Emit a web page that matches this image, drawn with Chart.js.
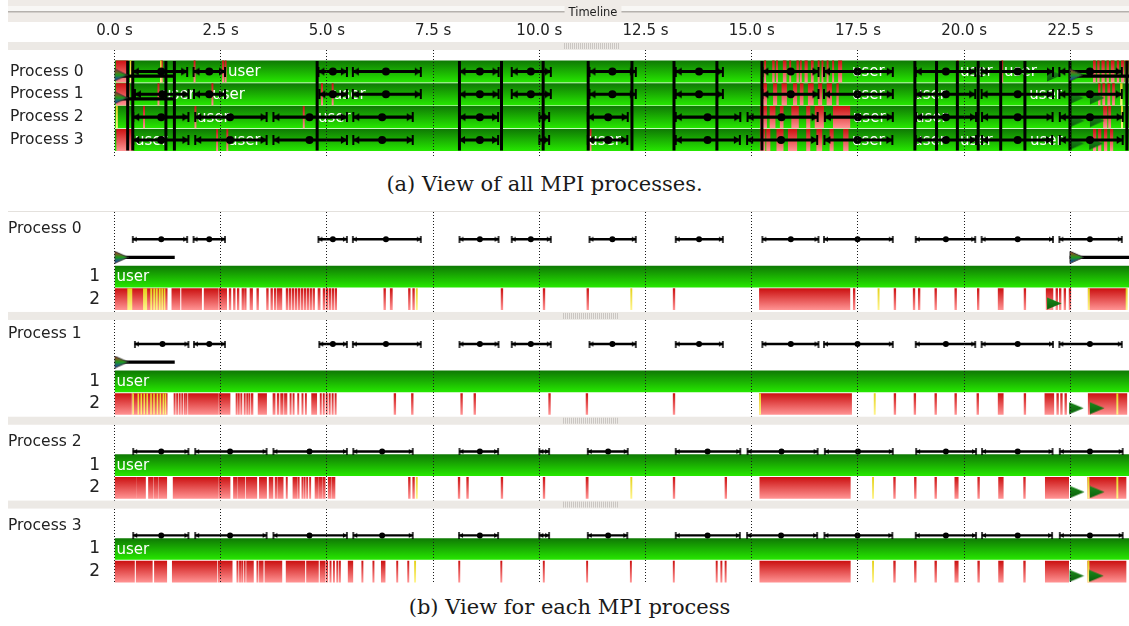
<!DOCTYPE html>
<html>
<head>
<meta charset="utf-8">
<title>Timeline</title>
<script src="https://cdn.jsdelivr.net/npm/chart.js@4.4.1/dist/chart.umd.min.js"></script>
<style>
  html, body { margin: 0; padding: 0; background: #ffffff; }
  #page { position: relative; width: 1129px; height: 626px; overflow: hidden; background: #ffffff; }
  canvas { position: absolute; left: 0; }
  #overview { top: 0; }
  #perProcess { top: 205px; }
  .caption { position: absolute; width: 1129px; text-align: center; font-family: "DejaVu Serif", "Liberation Serif", serif;
             font-size: 21px; line-height: 24px; color: #1a1a1a; white-space: nowrap; }
</style>
</head>
<body>
<div id="page">
  <canvas id="overview" width="1129" height="160"></canvas>
  <canvas id="perProcess" width="1129" height="385"></canvas>
  <div class="caption" style="left:-20px; top:172px;">(a) View of all MPI processes.</div>
  <div class="caption" style="left:5px; top:595px;">(b) View for each MPI process</div>
</div>
<script>
const UI_FONT = '"DejaVu Sans", "Noto Sans", sans-serif';
Chart.defaults.font.family = UI_FONT;

// ---------- trace data (times in seconds) ----------
const processNames = ['Process 0', 'Process 1', 'Process 2', 'Process 3'];
const tickTimes = [0, 2.5, 5, 7.5, 10, 12.5, 15, 17.5, 20, 22.5];
const traceEnd = 23.88;
const functionName = 'user';

// MPI calls on call-stack level 2 (red)
const mpiP0 = [[0,1.24],[1.35,1.54],[1.58,2.05],[2.11,2.44],[2.46,2.64],
  [2.70,2.74],[2.80,2.84],[2.89,2.93],[3.00,3.04],[3.06,3.10],[3.19,3.25],[3.35,3.39],[3.58,3.62],[3.68,3.72],[3.76,3.80],[3.83,3.94],
  [4.04,4.08],[4.11,4.15],[4.18,4.22],[4.25,4.29],[4.32,4.36],[4.39,4.43],[4.46,4.50],[4.53,4.57],[4.60,4.64],[4.67,4.71],[4.79,4.84],
  [4.91,4.95],[4.98,5.02],[5.05,5.09],[5.12,5.16],[5.19,5.23],
  [6.34,6.38],[6.49,6.54],[6.92,6.96],[7.02,7.06],[9.10,9.14],[10.09,10.13],[11.12,11.16],[13.15,13.19],
  [15.18,17.31],[17.39,17.43],[18.35,18.39],[18.80,18.84],[18.92,18.96],[19.31,19.35],[19.78,19.82],[20.31,20.35],[20.80,20.92],
  [21.41,21.45],[21.93,22.09],[22.16,22.20],[22.24,22.28],[22.35,22.39],[22.47,22.51],[22.92,23.81]];
const mpiP1 = [[0,0.40],[0.43,1.24],[1.40,1.43],[1.46,1.49],[1.52,1.55],[1.58,1.61],[1.64,1.67],[1.68,1.71],[1.74,2.43],[2.45,2.72],
  [2.86,2.89],[2.91,2.94],[2.97,3.00],[3.05,3.08],[3.11,3.14],[3.16,3.19],[3.22,3.26],[3.38,3.58],[3.73,3.78],[3.83,3.87],[3.91,3.97],
  [4.00,4.06],[4.13,4.16],[4.20,4.23],[4.31,4.34],[4.41,4.44],[4.49,4.52],[4.64,4.76],[4.84,4.87],[4.91,4.94],[4.98,5.01],[5.05,5.08],
  [5.12,5.15],[5.19,5.22],
  [6.58,6.62],[6.99,7.03],[8.15,8.19],[8.46,8.50],[10.22,10.26],[11.10,11.14],[13.15,13.19],
  [15.18,17.35],[18.35,18.39],[18.82,18.86],[19.31,19.35],[19.78,19.82],[20.30,20.34],[20.80,20.92],[21.41,21.45],[21.90,22.11],
  [22.18,22.22],[22.27,22.31],[22.37,22.41],[22.92,23.83]];
const mpiP2 = [[0,0.51],[0.52,0.73],[0.80,0.91],[0.93,1.03],[1.05,1.23],[1.38,2.43],[2.45,2.72],
  [2.80,2.89],[2.91,3.07],[3.10,3.35],[3.41,3.58],[3.64,3.73],[3.78,3.83],[3.85,3.97],[4.04,4.07],[4.20,4.30],[4.32,4.35],[4.41,4.44],
  [4.46,4.49],[4.52,4.55],[4.59,4.62],[4.72,4.80],[4.82,4.88],[4.90,4.96],[5.03,5.10],[5.12,5.19],
  [6.92,6.96],[7.02,7.06],[8.09,8.13],[8.29,8.33],[9.10,9.14],[10.09,10.13],[11.10,11.15],[13.15,13.19],[14.37,14.41],
  [15.19,17.32],[18.34,18.38],[18.83,18.87],[19.31,19.35],[19.78,19.86],[20.32,20.36],[20.81,20.92],[21.40,21.44],[21.91,22.46],[22.91,23.81]];
const mpiP3 = [[0,0.47],[0.51,0.89],[0.94,1.23],[1.36,2.41],[2.44,2.77],[2.88,2.91],[2.94,2.97],[2.99,3.02],[3.05,3.08],[3.11,3.27],
  [3.35,3.38],[3.41,3.50],[3.54,3.94],[4.04,4.48],[4.52,4.80],[4.84,4.96],[4.99,5.02],[5.07,5.10],[5.15,5.18],[5.23,5.26],[5.29,5.32],
  [5.50,5.61],[5.82,5.85],[6.08,6.11],[6.28,6.37],[6.64,6.67],[6.90,6.93],[8.10,8.13],[9.09,9.12],[10.09,10.12],[11.11,11.14],
  [12.14,12.17],[13.15,13.18],[14.16,14.19],[14.27,14.30],[14.37,14.40],
  [15.19,17.32],[18.34,18.38],[18.83,18.87],[19.31,19.35],[19.78,19.86],[20.32,20.36],[20.81,20.92],[21.40,21.44],[21.91,22.46],[22.91,23.81]];

// other MPI functions on level 2 (yellow)
const otherP0 = [[0.31,0.41],[0.68,0.76],[0.85,0.88],[0.92,0.95],[0.98,1.01],[1.05,1.08],[1.11,1.14],[1.17,1.19],
  [7.10,7.13],[12.15,12.18],[17.97,18.00],[22.92,22.95],[23.81,23.84]];
const otherP1 = [[0.43,0.45],[0.55,0.57],[0.62,0.64],[0.69,0.71],[0.76,0.78],[0.85,0.87],[0.92,0.94],[1.00,1.02],[1.07,1.09],
  [1.14,1.16],[1.19,1.21],[15.18,15.21],[17.88,17.91],[23.59,23.62]];
const otherP2 = [[7.10,7.13],[12.15,12.18],[17.84,17.87],[22.91,22.94],[23.59,23.62]];
const otherP3 = [[7.06,7.09],[17.84,17.87],[22.91,22.94]];

// summarised MPI share in the overview rows
const topMpiP0 = [[0.04,0.32],[1.10,1.13],[1.87,1.90],[2.54,2.57],[2.60,2.63],[15.30,15.33],[15.49,15.53],[15.58,15.61],[15.74,15.81],
  [15.89,15.92],[16.06,16.10],[16.14,16.17],[16.25,16.31],[16.40,16.45],[16.56,16.59],[16.65,16.68],[16.77,16.80],[16.90,16.93],
  [17.04,17.12],[19.83,19.86],[20.88,20.91],[23.04,23.09],[23.14,23.18],[23.24,23.30],[23.36,23.40],[23.46,23.53],[23.60,23.64],
  [23.70,23.76],[23.80,23.86]];
const topMpiP1 = [[0.04,0.35],[1.02,1.05],[1.39,1.42],[2.29,2.32],[4.87,4.90],[5.12,5.15],[15.27,15.35],[15.51,15.59],[15.71,15.82],
  [15.98,16.06],[16.14,16.21],[16.33,16.45],[16.57,16.65],[16.77,16.88],[17.00,17.04],[23.16,23.20],[23.26,23.31],[23.38,23.43],[23.49,23.54]];
const topMpiP2 = [[0.68,0.71],[1.89,1.92],[4.44,4.47],[15.20,15.35],[15.43,15.55],[15.67,15.74],[15.94,16.10],[16.29,16.37],
  [16.49,16.69],[16.92,17.31],[23.28,23.36],[23.40,23.45]];
const topMpiP3 = [[0.05,0.44],[2.40,2.43],[2.64,2.67],[11.19,11.22],[15.20,15.31],[15.35,15.43],[15.59,15.74],[15.86,16.06],
  [16.29,16.37],[16.53,16.65],[16.84,16.92],[17.16,17.27],[23.04,23.10],[23.16,23.22],[23.30,23.36],[23.44,23.50]];
const topOtherP0 = [[0.37,0.40],[1.08,1.10]];
const topOtherP1 = [[23.68,23.72]];
const topOtherP2 = [[0.04,0.07],[23.70,23.73]];
const topOtherP3 = [];

// message phases: [send start, transfer mark, receive end]
const msgP0 = [[0.43,1.10,1.71],[1.86,2.23,2.60],[4.80,5.14,5.47],[5.61,6.39,7.21],[8.12,8.60,9.04],[9.35,9.80,10.27],[11.18,11.72,12.27],
  [13.21,13.76,14.32],[15.25,15.92,16.57],[16.70,17.49,18.32],[18.86,19.57,20.26],[20.41,21.26,22.09],[22.24,22.96,23.71]];
const msgP1 = [[0.48,1.13,1.74],[1.87,2.23,2.60],[4.82,5.14,5.47],[5.61,6.39,7.21],[8.12,8.60,9.04],[9.35,9.80,10.27],[11.18,11.72,12.27],
  [13.21,13.76,14.32],[15.25,15.92,16.57],[16.70,17.49,18.32],[18.86,19.57,20.26],[20.41,21.26,22.09],[22.24,22.96,23.71]];
const msgP2 = [[0.44,1.10,1.74],[1.90,2.72,3.58],[3.74,4.59,5.47],[5.62,6.30,7.02],[8.12,8.60,9.03],[10.00,null,10.23],[11.14,11.62,12.08],
  [13.21,13.96,14.73],[14.90,15.70,16.55],[16.72,17.50,18.32],[18.87,19.57,20.28],[20.42,21.26,22.08],[22.25,22.96,23.73]];
const msgP3 = [[0.44,1.10,1.74],[1.90,2.72,3.58],[3.74,4.59,5.47],[5.62,6.30,7.02],[8.11,8.60,9.03],[10.00,null,10.23],[11.14,11.62,12.07],
  [13.21,13.96,14.72],[14.89,15.69,16.54],[16.71,17.49,18.31],[18.86,19.57,20.28],[20.42,21.26,22.07],[22.25,22.96,23.73]];

// collective operations spanning all processes
const collectiveTimes = [0.31,0.43,1.21,1.41,4.77,8.12,9.11,10.09,11.15,12.18,13.17,14.18,15.24,18.84,19.35,19.84,20.33,20.86,21.43,22.49,23.83];

// I/O bursts [start, end] and resumed-task flags
const burstP0 = [[0,1.41],[22.49,23.88]];
const burstP1 = [[0,1.41]];
const burstP2 = [];
const burstP3 = [];
const flagP0 = [21.95];
const flagP1 = [22.47,22.96];
const flagP2 = [22.49,22.96];
const flagP3 = [22.48,22.94];

// where the overview has room for the function name
const userTopP0 = [2.67,17.36,19.90,20.94];
const userTopP1 = [1.12,2.30,5.14,17.36,18.80,21.53];
const userTopP2 = [1.94,4.79,17.38,18.84];
const userTopP3 = [0.48,2.67,11.15,17.36,18.80,19.90,21.55];

const mpiRows = [mpiP0, mpiP1, mpiP2, mpiP3];
const otherRows = [otherP0, otherP1, otherP2, otherP3];
const topMpiRows = [topMpiP0, topMpiP1, topMpiP2, topMpiP3];
const topOtherRows = [topOtherP0, topOtherP1, topOtherP2, topOtherP3];
const msgRows = [msgP0, msgP1, msgP2, msgP3];
const burstRows = [burstP0, burstP1, burstP2, burstP3];
const flagRows = [flagP0, flagP1, flagP2, flagP3];
const userTopRows = [userTopP0, userTopP1, userTopP2, userTopP3];

// ---------- styling ----------
const GREEN = ['#0f7a04', '#26e600'];
const RED = ['#cc1212', '#ff9292'];
const YELLOW = ['#e4d21a', '#fff48c'];

function glyph(w, h, paint) {
  const cv = document.createElement('canvas');
  cv.width = w; cv.height = h;
  paint(cv.getContext('2d'), w, h);
  return cv;
}
// "|<" : bar on the anchor, triangle to its right
function startGlyph(barH, triW, triH, lw) {
  return glyph((triW + 2) * 2, barH, (c, w, h) => {
    const cx = w / 2;
    c.fillStyle = '#000';
    c.fillRect(cx - lw / 2, 0, lw, h);
    c.beginPath(); c.moveTo(cx, h / 2); c.lineTo(cx + triW, h / 2 - triH / 2); c.lineTo(cx + triW, h / 2 + triH / 2); c.closePath(); c.fill();
  });
}
// ">|" : triangle to the left of the bar
function endGlyph(barH, triW, triH, lw) {
  return glyph((triW + 2) * 2, barH, (c, w, h) => {
    const cx = w / 2;
    c.fillStyle = '#000';
    c.fillRect(cx - lw / 2, 0, lw, h);
    c.beginPath(); c.moveTo(cx, h / 2); c.lineTo(cx - triW, h / 2 - triH / 2); c.lineTo(cx - triW, h / 2 + triH / 2); c.closePath(); c.fill();
  });
}
// right-pointing flag whose left edge sits on the anchor
function flagGlyph(tw, th, stops, outline) {
  return glyph(tw * 2, th, (c, w, h) => {
    const g = c.createLinearGradient(0, 0, 0, h);
    stops.forEach((s, i) => g.addColorStop(i / (stops.length - 1), s));
    c.beginPath(); c.moveTo(tw, 0.5); c.lineTo(w - 0.5, h / 2); c.lineTo(tw, h - 0.5); c.closePath();
    c.fillStyle = g; c.fill();
    if (outline) { c.strokeStyle = outline; c.lineWidth = 1; c.stroke(); }
  });
}

function gradientFill(colors, thickness) {
  return (ctx) => {
    const chart = ctx.chart;
    if (!chart.chartArea || !ctx.raw || ctx.raw.y == null) return colors[1];
    const yc = chart.scales.y.getPixelForValue(ctx.raw.y);
    const g = chart.ctx.createLinearGradient(0, yc - thickness / 2, 0, yc + thickness / 2);
    g.addColorStop(0, colors[0]); g.addColorStop(1, colors[1]);
    return g;
  };
}

function intervalBars(rows, rowOf) {
  const out = [];
  rows.forEach((list, p) => list.forEach(s => out.push({ x: [s[0], s[1]], y: rowOf(p) })));
  return out;
}
function pointsAt(rows, pick, rowOf) {
  const out = [];
  rows.forEach((list, p) => list.forEach(item => { const t = pick(item); if (t != null) out.push({ x: t, y: rowOf(p) }); }));
  return out;
}
function hBars(id, data, thickness, color, order) {
  return { type: 'bar', id, indexAxis: 'y', stack: 'rows', data, barThickness: thickness, backgroundColor: color, borderWidth: 0, order };
}
function marks(data, style, radius, order) {
  return { type: 'scatter', data, pointStyle: style, pointRadius: radius, pointBackgroundColor: '#000', pointBorderWidth: 0, order };
}

function timeAxis(height, showLabels) {
  return {
    type: 'linear', position: 'top', min: 0, max: traceEnd, stacked: false, offset: false,
    afterBuildTicks: s => { s.ticks = tickTimes.map(v => ({ value: v })); },
    afterFit: s => { s.height = height; },
    ticks: { display: showLabels, autoSkip: false, maxRotation: 0, padding: 10, color: '#222',
             font: { size: 15 }, callback: v => v.toFixed(1) + ' s' },
    grid: { drawTicks: false, offset: false, color: '#1b1b1b', lineWidth: 1, z: 1 },
    border: { display: false, dash: [1, 2] }
  };
}
function rowAxis(min, max) {
  return { type: 'linear', display: false, reverse: true, min, max, offset: false, grid: { offset: false } };
}

function drawGrip(c, cx, cy) {
  c.fillStyle = '#cac6c2';
  for (let x = cx - 27; x <= cx + 27; x += 2) c.fillRect(x, cy - 3, 1, 6);
}

// ---------- overview of all processes ----------
const topRow = p => p;
const TOP = { row: 21.5, msg: 2.4, burst: 2.6, burstShift: 0.2, flagShift: 0.15 };

const overviewFrame = {
  id: 'overviewFrame',
  beforeDraw(chart) {
    const c = chart.ctx, W = chart.width;
    c.save();
    c.fillStyle = '#efebe7'; c.fillRect(8, 0, W - 8, 22);
    c.fillStyle = '#f8f7f5'; c.fillRect(8, 6, W - 8, 5);
    c.fillStyle = '#b5b1ad'; c.fillRect(8, 11, W - 8, 1.5);
    c.font = '11.5px ' + UI_FONT;
    const tw = c.measureText('Timeline').width;
    c.fillStyle = '#efebe7'; c.fillRect(593 - tw / 2 - 4, 4, tw + 8, 17);
    c.fillStyle = '#1e1e1e'; c.textAlign = 'center'; c.textBaseline = 'middle';
    c.fillText('Timeline', 593, 13);
    c.fillStyle = '#ece9e5'; c.fillRect(8, 42, W - 8, 8);
    drawGrip(c, 591, 46);
    c.restore();
  },
  afterDatasetDraw(chart, args) {
    if (chart.data.datasets[args.index].id !== 'other') return;
    const c = chart.ctx, xs = chart.scales.x, ys = chart.scales.y, a = chart.chartArea;
    c.save();
    c.beginPath(); c.rect(a.left, a.top, a.right - a.left, a.bottom - a.top); c.clip();
    c.font = '15px ' + UI_FONT; c.fillStyle = '#ffffff'; c.textAlign = 'left'; c.textBaseline = 'middle';
    userTopRows.forEach((list, p) => list.forEach(t => c.fillText(functionName, xs.getPixelForValue(t), ys.getPixelForValue(p) + 1)));
    c.restore();
  },
  afterDatasetsDraw(chart) {
    const c = chart.ctx, ys = chart.scales.y;
    c.save();
    c.font = '15.5px ' + UI_FONT; c.fillStyle = '#222'; c.textAlign = 'left'; c.textBaseline = 'middle';
    processNames.forEach((n, p) => c.fillText(n, 10, ys.getPixelForValue(p)));
    c.restore();
  }
};

function verticals(times, y0, y1) {
  const d = [];
  times.forEach(t => { d.push({ x: t, y: y0 }, { x: t, y: y1 }, { x: t, y: null }); });
  return d;
}

new Chart(document.getElementById('overview'), {
  type: 'bar',
  data: {
    datasets: [
      hBars('user', processNames.map((_, p) => ({ x: [0, traceEnd], y: p })), TOP.row, gradientFill(GREEN, TOP.row), 20),
      hBars('mpi', intervalBars(topMpiRows, topRow), TOP.row, gradientFill(RED, TOP.row), 19),
      hBars('other', intervalBars(topOtherRows, topRow), TOP.row, gradientFill(YELLOW, TOP.row), 18),
      marks(pointsAt(flagRows, t => t, p => p + TOP.flagShift), flagGlyph(15, 14, ['#1c8a1c', '#0a5f0a']), 6, 12),
      hBars('msg', intervalBars(msgRows.map(l => l.map(m => [m[0], m[2]])), topRow), TOP.msg, '#000', 11),
      hBars('burst', intervalBars(burstRows, p => p + TOP.burstShift), TOP.burst, '#000', 11),
      { type: 'line', data: verticals(collectiveTimes, -0.46, 3.46), borderColor: '#000', borderWidth: 3,
        pointRadius: 0, spanGaps: false, fill: false, tension: 0, order: 10 },
      marks(pointsAt(msgRows, m => m[1], topRow), 'circle', 4, 9),
      marks(pointsAt(msgRows, m => m[0], topRow), startGlyph(10, 6, 8, 2), 5, 9),
      marks(pointsAt(msgRows, m => m[2], topRow), endGlyph(10, 6, 8, 2), 5, 9),
      marks(pointsAt(burstRows, b => b[0], p => p + TOP.flagShift), flagGlyph(13, 13, ['#c82424', '#1e9a1e', '#1a2ad8'], '#333'), 6, 8)
    ]
  },
  options: {
    responsive: false, devicePixelRatio: 1, animation: false, events: [],
    layout: { autoPadding: false, padding: { left: 114.5, right: 0, top: 0, bottom: 2 } },
    scales: { x: timeAxis(50, true), y: rowAxis(-0.943, 3.79) },
    plugins: { legend: { display: false }, tooltip: { enabled: false } }
  },
  plugins: [overviewFrame]
});

// ---------- one block per process ----------
const rowBase = [0, 5, 9, 13];
const rowOffset = { mpi: 1.08, band: 1.88, burst: -0.92, flag: 0.2,
                    msg: [-1.78, -1.78, -0.65, -0.65], label: [-2.26, -2.26, -1.12, -1.12] };
const BOT = { row: 21, msg: 1.7, burst: 2.6 };

const perProcessFrame = {
  id: 'perProcessFrame',
  afterDatasetsDraw(chart) {
    const c = chart.ctx, xs = chart.scales.x, ys = chart.scales.y;
    c.save();
    c.textBaseline = 'middle';
    processNames.forEach((n, p) => {
      const g = rowBase[p];
      c.font = '15.5px ' + UI_FONT; c.fillStyle = '#222'; c.textAlign = 'left';
      c.fillText(n, 8, ys.getPixelForValue(g + rowOffset.label[p]));
      c.font = '17px ' + UI_FONT; c.textAlign = 'right';
      c.fillText('1', 100, ys.getPixelForValue(g));
      c.fillText('2', 100, ys.getPixelForValue(g + rowOffset.mpi));
      c.font = '15px ' + UI_FONT; c.fillStyle = '#ffffff'; c.textAlign = 'left';
      c.fillText(functionName, xs.getPixelForValue(0) + 2, ys.getPixelForValue(g) + 1);
    });
    c.restore();
  },
  afterDraw(chart) {
    const c = chart.ctx, ys = chart.scales.y, W = chart.width;
    c.save();
    c.fillStyle = '#e4e1dd'; c.fillRect(8, 6, W - 8, 1);
    for (let p = 0; p < processNames.length - 1; p++) {
      const y = ys.getPixelForValue(rowBase[p] + rowOffset.band);
      c.fillStyle = '#ece9e5'; c.fillRect(8, y - 4, W - 8, 8);
      drawGrip(c, 590, y);
    }
    c.restore();
  }
};

new Chart(document.getElementById('perProcess'), {
  type: 'bar',
  data: {
    datasets: [
      hBars('user', processNames.map((_, p) => ({ x: [0, traceEnd], y: rowBase[p] })), BOT.row, gradientFill(GREEN, BOT.row), 20),
      hBars('mpi', intervalBars(mpiRows, p => rowBase[p] + rowOffset.mpi), BOT.row, gradientFill(RED, BOT.row), 19),
      hBars('other', intervalBars(otherRows, p => rowBase[p] + rowOffset.mpi), BOT.row, gradientFill(YELLOW, BOT.row), 18),
      marks(pointsAt(flagRows, t => t, p => rowBase[p] + rowOffset.mpi + rowOffset.flag), flagGlyph(15, 13, ['#1c8a1c', '#0a5f0a']), 6, 12),
      hBars('msg', intervalBars(msgRows.map(l => l.map(m => [m[0], m[2]])), p => rowBase[p] + rowOffset.msg[p]), BOT.msg, '#000', 11),
      hBars('burst', intervalBars(burstRows, p => rowBase[p] + rowOffset.burst), BOT.burst, '#000', 11),
      marks(pointsAt(msgRows, m => m[1], p => rowBase[p] + rowOffset.msg[p]), 'circle', 3, 9),
      marks(pointsAt(msgRows, m => m[0], p => rowBase[p] + rowOffset.msg[p]), startGlyph(7, 4, 5, 1.5), 4, 9),
      marks(pointsAt(msgRows, m => m[2], p => rowBase[p] + rowOffset.msg[p]), endGlyph(7, 4, 5, 1.5), 4, 9),
      marks(pointsAt(burstRows, b => b[0], p => rowBase[p] + rowOffset.burst), flagGlyph(14, 13, ['#c82424', '#1e9a1e', '#1a2ad8'], '#333'), 6, 8)
    ]
  },
  options: {
    responsive: false, devicePixelRatio: 1, animation: false, events: [],
    layout: { autoPadding: false, padding: { left: 114.5, right: 0, top: 0, bottom: 6 } },
    scales: { x: timeAxis(7, false), y: rowAxis(-3.08, 14.67) },
    plugins: { legend: { display: false }, tooltip: { enabled: false } }
  },
  plugins: [perProcessFrame]
});
</script>
</body>
</html>
